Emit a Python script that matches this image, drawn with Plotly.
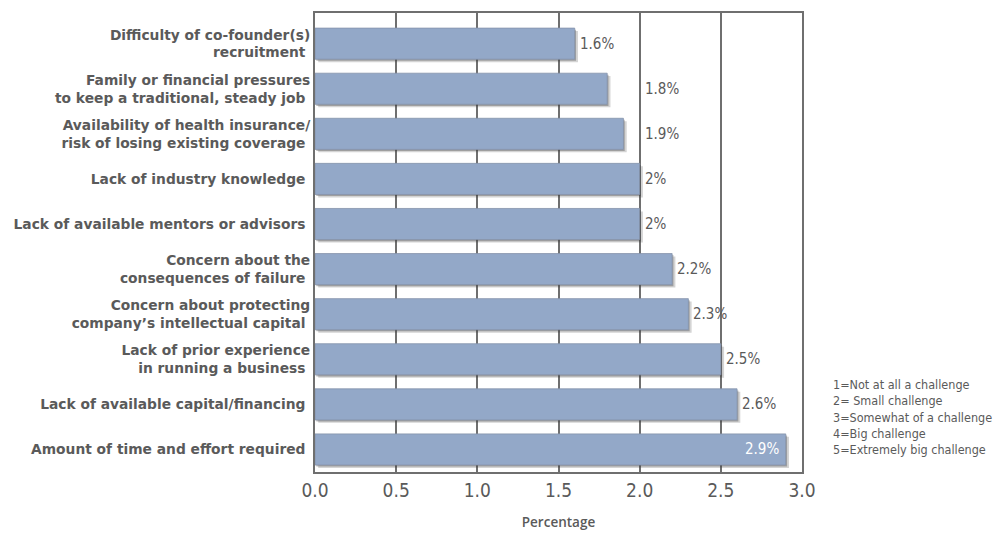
import plotly.graph_objects as go

# Challenges to starting a company, average rating on a 1-5 scale
challenges = [
    "Difficulty of co-founder(s)<br>recruitment",
    "Family or financial pressures<br>to keep a traditional, steady job",
    "Availability of health insurance/<br>risk of losing existing coverage",
    "Lack of industry knowledge",
    "Lack of available mentors or advisors",
    "Concern about the<br>consequences of failure",
    "Concern about protecting<br>company\u2019s intellectual capital",
    "Lack of prior experience<br>in running a business",
    "Lack of available capital/financing",
    "Amount of time and effort required",
]
ratings = [1.6, 1.8, 1.9, 2.0, 2.0, 2.2, 2.3, 2.5, 2.6, 2.9]
value_labels = ["1.6%", "1.8%", "1.9%", "2%", "2%", "2.2%", "2.3%", "2.5%", "2.6%", "2.9%"]
x_ticks = [0.0, 0.5, 1.0, 1.5, 2.0, 2.5, 3.0]
scale_notes = [
    "1=Not at all a challenge",
    "2= Small challenge",
    "3=Somewhat of a challenge",
    "4=Big challenge",
    "5=Extremely big challenge",
]

BAR = "#93a8c8"
GRID = "#6f6f6f"
TEXT = "#5a5a5a"
NARROW = "DejaVu Sans Condensed, DejaVu Sans, sans-serif"

fig = go.Figure()

# soft drop shadow behind each bar
fig.add_trace(go.Bar(
    y=challenges, x=ratings, orientation="h", base=0.02,
    width=0.69, offset=-0.28,
    marker=dict(color="rgba(60,60,60,0.22)", line=dict(width=0)),
    hoverinfo="skip", showlegend=False,
))
fig.add_trace(go.Bar(
    y=challenges, x=ratings, orientation="h", base=0.008,
    width=0.69, offset=-0.31,
    marker=dict(color="rgba(60,60,60,0.35)", line=dict(width=0)),
    hoverinfo="skip", showlegend=False,
))
fig.add_trace(go.Bar(
    y=challenges, x=ratings, orientation="h",
    width=0.69, offset=-0.345,
    marker=dict(color=BAR, line=dict(color="#8593ab", width=0.8)),
    showlegend=False,
))

# value labels: outside the bar end, kept clear of the 2.0 gridline;
# the longest bar carries its label inside in white
for name, v, lab in zip(challenges, ratings, value_labels):
    if v >= 2.8:
        fig.add_annotation(x=v, y=name, text=lab, showarrow=False,
                           xanchor="right", xshift=-5,
                           font=dict(family=NARROW, size=15, color="white"))
    else:
        fig.add_annotation(x=max(v, 2.0) if v > 1.7 else v, y=name, text=lab,
                           showarrow=False, xanchor="left", xshift=3,
                           font=dict(family=NARROW, size=15, color=TEXT))

# rating scale key
fig.add_annotation(
    xref="paper", yref="paper", x=1.06, y=0.212, xanchor="left", yanchor="top",
    text="<br>".join(scale_notes), align="left", showarrow=False,
    font=dict(family=NARROW, size=12.5, color=TEXT),
)

fig.update_layout(
    width=995, height=535,
    margin=dict(l=315, r=193, t=13, b=63),
    paper_bgcolor="white", plot_bgcolor="white",
    barmode="overlay",
    bargap=0.31,
    xaxis=dict(
        range=[0, 3], tickvals=x_ticks,
        ticktext=[f"{t:.1f}" for t in x_ticks],
        showgrid=True, gridcolor=GRID, gridwidth=1.5,
        zeroline=False, showline=True, linecolor=GRID, linewidth=2,
        mirror=True, ticks="", layer="below traces", automargin=False,
        tickfont=dict(family=NARROW, size=19, color=TEXT),
        title=dict(text="Percentage", standoff=18,
                   font=dict(family="Open Sans", size=13.5, color=TEXT, weight=600)),
    ),
    yaxis=dict(
        autorange=False, range=[9.5, -0.68], type="category",
        showgrid=False, showline=True, linecolor=GRID, linewidth=2,
        mirror=True, ticks="", layer="below traces", ticksuffix=" ",
        automargin=False,
        tickfont=dict(family="DejaVu Sans", size=13.8, color=TEXT, weight="bold"),
    ),
)

fig.write_html("out.html")
